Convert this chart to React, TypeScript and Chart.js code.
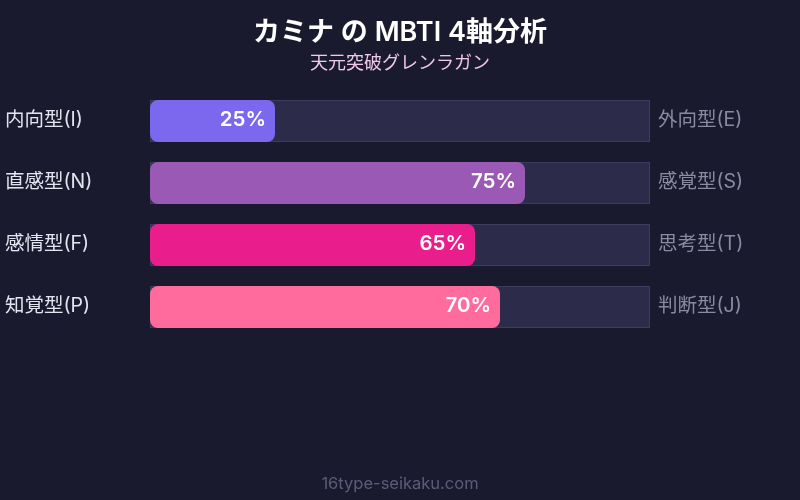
import { useEffect, useRef } from 'react'
import { Chart, registerables } from 'chart.js'

Chart.register(...registerables)

// MBTI 4軸データ
const leftLabels = ['内向型(I)', '直感型(N)', '感情型(F)', '知覚型(P)']
const rightLabels = ['外向型(E)', '感覚型(S)', '思考型(T)', '判断型(J)']
const scores = [25, 75, 65, 70]
const trackValues = [100, 100, 100, 100]
const barColors = ['#7b68ee', '#9b59b6', '#e91e8c', '#ff6b9d']

const FONT = "Inter, 'Noto Sans CJK JP', sans-serif"

// 背景・タイトル・ラベルの描画
const decorPlugin = {
  id: 'decor',
  beforeDraw(chart: any) {
    const { ctx, width, height } = chart
    ctx.save()
    ctx.fillStyle = '#1a1a2e'
    ctx.fillRect(0, 0, width, height)
    ctx.textAlign = 'center'
    ctx.textBaseline = 'middle'
    ctx.fillStyle = '#ffffff'
    ctx.font = `600 27px ${FONT}`
    ctx.fillText('カミナ の MBTI 4軸分析', width / 2, 33)
    ctx.fillStyle = '#f0c8e8'
    ctx.font = `18px ${FONT}`
    ctx.fillText('天元突破グレンラガン', width / 2, 64)
    ctx.fillStyle = '#5c5c7a'
    ctx.font = `16.5px ${FONT}`
    ctx.fillText('16type-seikaku.com', width / 2, 484)
    ctx.restore()
  },
  afterDatasetsDraw(chart: any) {
    const { ctx } = chart
    const x = chart.scales.x
    const y = chart.scales.y
    ctx.save()
    ctx.textBaseline = 'middle'
    leftLabels.forEach((label, i) => {
      const cy = y.getPixelForValue(i) - 1
      ctx.font = `19.5px ${FONT}`
      ctx.textAlign = 'left'
      ctx.fillStyle = '#e4e4f0'
      ctx.fillText(label, 5, cy)
      ctx.fillStyle = '#8a8aa0'
      ctx.fillText(rightLabels[i], x.getPixelForValue(100) + 8, cy)
      ctx.font = `600 20.5px ${FONT}`
      ctx.textAlign = 'right'
      ctx.fillStyle = '#ffffff'
      ctx.fillText(`${scores[i]}%`, x.getPixelForValue(scores[i]) - 9, cy)
    })
    ctx.restore()
  },
}

export default function App() {
  const chartRef = useRef<HTMLCanvasElement>(null)

  useEffect(() => {
    document.body.style.margin = '0'
    document.body.style.background = '#1a1a2e'
    if (!chartRef.current) return
    const chart = new Chart(chartRef.current, {
      type: 'bar',
      data: {
        labels: leftLabels,
        datasets: [
          {
            label: 'score',
            data: scores,
            backgroundColor: barColors,
            borderRadius: 8,
            borderSkipped: false,
            grouped: false,
            order: 0,
          } as any,
          {
            label: 'track',
            data: trackValues,
            backgroundColor: '#2d2b4a',
            borderColor: '#3e3c5e',
            borderWidth: 1,
            borderSkipped: false,
            grouped: false,
            order: 1,
          } as any,
        ],
      },
      options: {
        indexAxis: 'y',
        animation: false,
        responsive: false,
        maintainAspectRatio: false,
        barPercentage: 1,
        categoryPercentage: 0.68,
        layout: { padding: { left: 150, right: 150, top: 90, bottom: 162 } },
        scales: {
          x: { display: false, min: 0, max: 100 },
          y: { display: false },
        },
        plugins: {
          legend: { display: false },
          tooltip: { enabled: false },
        },
      },
      plugins: [decorPlugin],
    })
    return () => chart.destroy()
  }, [])

  return (
    <div style={{ width: 800, height: 500 }}>
      <canvas ref={chartRef} width={800} height={500}></canvas>
    </div>
  )
}
